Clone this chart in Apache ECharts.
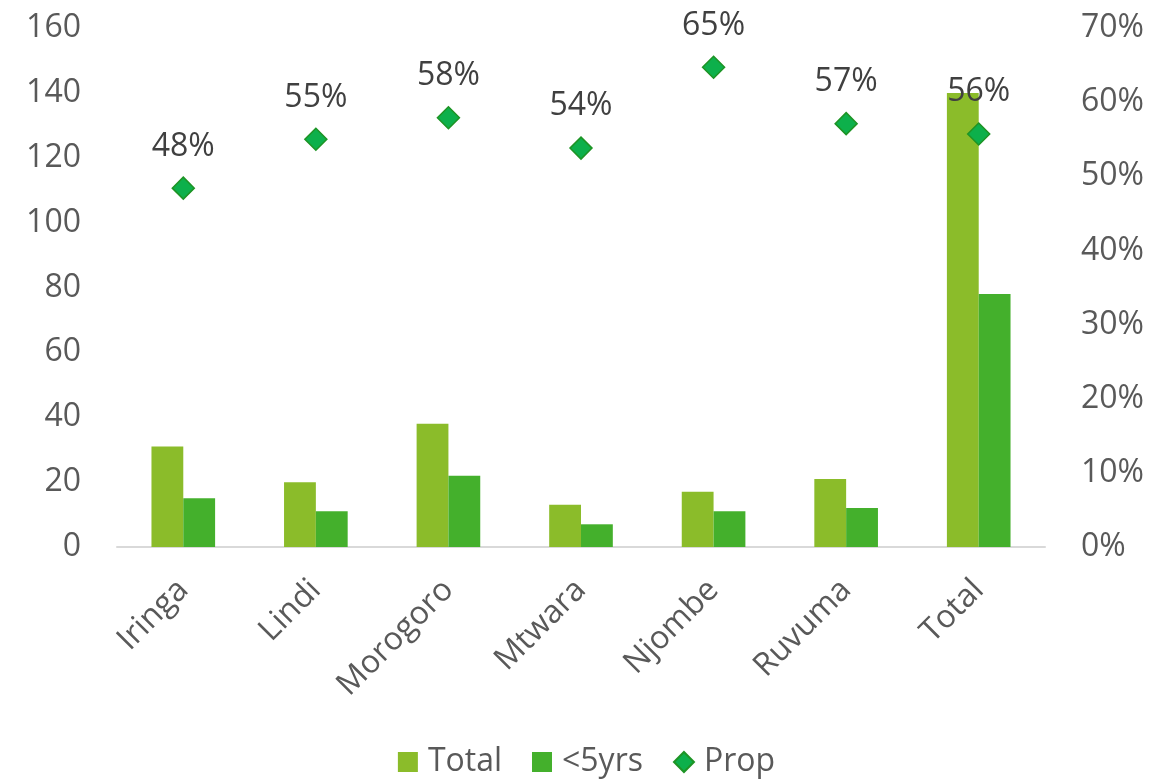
<!DOCTYPE html>
<html>
<head>
<meta charset="utf-8">
<script src="https://cdn.jsdelivr.net/npm/echarts@6/dist/echarts.min.js"></script>
<style>html,body{margin:0;padding:0;background:#fff}#c{width:1173px;height:779px}</style>
</head>
<body>
<div id="c"></div>
<script>
var categories = ['Iringa','Lindi','Morogoro','Mtwara','Njombe','Ruvuma','Total'];
var totalValues = [31, 20, 38, 13, 17, 21, 140];
var under5Values = [15, 11, 22, 7, 11, 12, 78];
var propValues = [0.484, 0.55, 0.579, 0.538, 0.647, 0.571, 0.557];
var leftTicks = {min: 0, max: 160, interval: 20};
var rightTicks = {min: 0, max: 0.7, interval: 0.1};

var FONT = 'Open Sans';
var TXT = '#595959';
var FS = 32;
var chart = echarts.init(document.getElementById('c'), null, {renderer: 'canvas'});
chart.setOption({
  animation: false,
  textStyle: {fontFamily: FONT},
  grid: {left: 117, right: 128, top: 28, bottom: 232},
  legend: {
    bottom: -4, left: 'center', itemWidth: 20, itemHeight: 20, itemGap: 30,
    textStyle: {fontFamily: FONT, fontSize: FS, color: TXT, padding: [0, 0, 0, 5]},
    data: [{name: 'Total', icon: 'rect'}, {name: '<5yrs', icon: 'rect'}, {name: 'Prop', icon: 'diamond'}]
  },
  xAxis: {
    type: 'category', data: categories,
    axisLine: {lineStyle: {color: '#D9D9D9', width: 2}},
    axisTick: {show: false},
    axisLabel: {rotate: 45, fontSize: FS, color: TXT, fontFamily: FONT, margin: 38}
  },
  yAxis: [{
    type: 'value', min: leftTicks.min, max: leftTicks.max, interval: leftTicks.interval,
    splitLine: {show: false}, axisLine: {show: false}, axisTick: {show: false},
    axisLabel: {fontSize: FS, color: TXT, fontFamily: FONT, margin: 36}
  }, {
    type: 'value', min: rightTicks.min, max: rightTicks.max, interval: rightTicks.interval,
    splitLine: {show: false}, axisLine: {show: false}, axisTick: {show: false},
    axisLabel: {fontSize: FS, color: TXT, fontFamily: FONT, margin: 36,
      formatter: function (v) { return Math.round(v * 100) + '%'; }}
  }],
  series: [{
    name: 'Total', type: 'bar', data: totalValues, barGap: '0%', barCategoryGap: '52%',
    itemStyle: {color: '#8BBC2A'}
  }, {
    name: '<5yrs', type: 'bar', data: under5Values,
    itemStyle: {color: '#44B02C'}
  }, {
    name: 'Prop', type: 'scatter', yAxisIndex: 1, data: propValues,
    symbol: 'diamond', symbolSize: 22,
    itemStyle: {color: '#0DB04B', borderColor: '#1E9425', borderWidth: 1.5, opacity: 1},
    label: {show: true, position: 'top', distance: 14, fontSize: FS, color: '#404040', fontFamily: FONT,
      formatter: function (p) { return Math.round(p.value * 100) + '%'; }}
  }]
});
</script>
</body>
</html>
